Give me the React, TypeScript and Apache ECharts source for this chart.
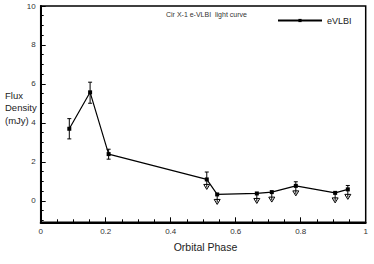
import React, { useEffect, useRef } from "react";
import * as echarts from "echarts";

const phase = [0.088, 0.152, 0.209, 0.511, 0.543, 0.665, 0.711, 0.785, 0.906, 0.945];
const flux = [3.7, 5.57, 2.4, 1.1, 0.33, 0.38, 0.45, 0.77, 0.41, 0.59];
const errHigh = [0.52, 0.52, 0.25, 0.38, 0, 0, 0, 0.21, 0, 0.2];
const errLow = [0.52, 0.56, 0.26, 0, 0, 0, 0, 0, 0, 0];
const upperLimit = [0, 0, 0, 1, 1, 1, 1, 1, 1, 1];
const xTicks = [0, 0.2, 0.4, 0.6, 0.8, 1];
const yTicks = [0, 2, 4, 6, 8, 10];
const seriesName = "eVLBI";
const titleText = "Cir X-1 e-VLBI  light curve";

const FONT = "'Liberation Sans', Arial, Helvetica, sans-serif";

export default function App() {
  const ref = useRef<HTMLDivElement>(null);
  useEffect(() => {
    if (!ref.current) return;
    const chart = echarts.init(ref.current, null, { renderer: "svg" });
    const lineData = phase.map((p, i) => [p, flux[i]]);
    const errData = phase.map((p, i) => [p, flux[i], errLow[i], errHigh[i], upperLimit[i]]);
    chart.setOption({
      animation: false,
      textStyle: { fontFamily: FONT },
      grid: {
        left: 40.7,
        right: 8.3,
        top: 6,
        bottom: 41.7,
        show: true,
        borderColor: "#000",
        borderWidth: 1.5,
        backgroundColor: "transparent",
      },
      legend: {
        data: [{ name: seriesName, itemStyle: { color: "#000" } }],
        left: 272,
        top: 11,
        itemWidth: 44,
        itemHeight: 4,
        itemGap: 4,
        textStyle: { fontSize: 9, color: "#222", fontFamily: FONT },
      },
      xAxis: {
        type: "value",
        min: 0,
        max: 1,
        interval: 0.2,
        axisLine: { show: true, onZero: false, lineStyle: { color: "#000", width: 2 } },
        axisTick: { show: true, inside: true, length: 5, lineStyle: { color: "#000", width: 1 } },
        minorTick: { show: true, splitNumber: 4, length: 3, lineStyle: { color: "#000", width: 1 } },
        splitLine: { show: false },
        axisLabel: {
          fontSize: 8,
          color: "#333",
          margin: 5,
          fontFamily: FONT,
          formatter: (v: number) => {
            const t = xTicks.find((x) => Math.abs(x - v) < 1e-6);
            return t === undefined ? "" : String(t);
          },
        },
      },
      yAxis: {
        type: "value",
        min: -1.1,
        max: 10,
        splitNumber: 5,
        minInterval: 2,
        maxInterval: 2,
        axisLine: { show: true, onZero: false, lineStyle: { color: "#000", width: 2 } },
        axisTick: { show: true, inside: true, length: 5, lineStyle: { color: "#000", width: 1 } },
        minorTick: { show: true, splitNumber: 4, length: 3, lineStyle: { color: "#000", width: 1 } },
        splitLine: { show: false },
        axisLabel: {
          fontSize: 8,
          color: "#333",
          margin: 5,
          fontFamily: FONT,
          formatter: (v: number) => {
            const t = yTicks.find((y) => Math.abs(y - v) < 1e-6);
            return t === undefined ? "" : String(t);
          },
        },
      },
      graphic: [
        {
          type: "text",
          left: 166,
          top: 11,
          style: { text: titleText, fontSize: 7, fill: "#333", fontFamily: FONT },
        },
        {
          type: "text",
          x: 205.5,
          y: 246.7,
          style: {
            text: "Orbital Phase",
            fontSize: 10.5,
            fill: "#222",
            fontFamily: FONT,
            align: "center",
            verticalAlign: "middle",
          },
        },
        {
          type: "text",
          x: 5,
          y: 107.5,
          style: {
            text: "Flux\nDensity\n(mJy)",
            fontSize: 9.5,
            lineHeight: 12.5,
            fill: "#222",
            fontFamily: FONT,
            align: "left",
            verticalAlign: "middle",
          },
        },
      ],
      series: [
        {
          name: seriesName,
          type: "line",
          data: lineData,
          symbol: "rect",
          symbolSize: 4,
          color: "#000",
          itemStyle: { color: "#000" },
          lineStyle: { color: "#000", width: 1.2 },
          z: 3,
        },
        {
          type: "custom",
          data: errData,
          z: 4,
          clip: false,
          renderItem: (params: any, api: any) => {
            const x = api.value(0);
            const y = api.value(1);
            const lo = api.value(2);
            const hi = api.value(3);
            const ul = api.value(4);
            const c = api.coord([x, y]);
            const children: any[] = [];
            const style = { stroke: "#000", lineWidth: 1, fill: "none" };
            const cw = 2;
            if (hi > 0) {
              const t = api.coord([x, y + hi]);
              children.push({ type: "line", shape: { x1: c[0], y1: c[1], x2: t[0], y2: t[1] }, style });
              children.push({ type: "line", shape: { x1: c[0] - cw, y1: t[1], x2: c[0] + cw, y2: t[1] }, style });
            }
            if (lo > 0) {
              const b = api.coord([x, y - lo]);
              children.push({ type: "line", shape: { x1: c[0], y1: c[1], x2: b[0], y2: b[1] }, style });
              children.push({ type: "line", shape: { x1: c[0] - cw, y1: b[1], x2: c[0] + cw, y2: b[1] }, style });
            }
            if (ul) {
              const len = 10;
              children.push({
                type: "polygon",
                shape: {
                  points: [
                    [c[0] - 3, c[1] + len - 5],
                    [c[0] + 3, c[1] + len - 5],
                    [c[0], c[1] + len],
                  ],
                },
                style: { stroke: "#000", lineWidth: 1, fill: "#fff" },
              });
              children.push({ type: "line", shape: { x1: c[0], y1: c[1], x2: c[0], y2: c[1] + len - 2 }, style });
            }
            return { type: "group", children };
          },
        },
      ],
    });
    return () => chart.dispose();
  }, []);
  return (
    <div
      ref={ref}
      style={{ position: "absolute", left: 0, top: 0, width: 374, height: 264, background: "#fff" }}
    />
  );
}
